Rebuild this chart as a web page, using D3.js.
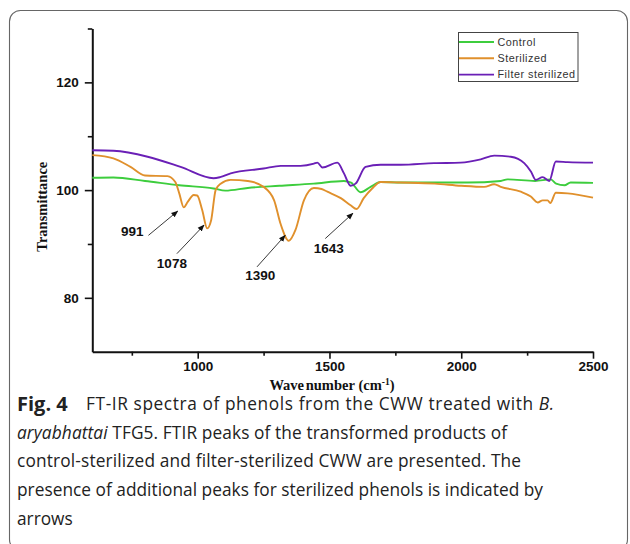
<!DOCTYPE html>
<html>
<head>
<meta charset="utf-8">
<script src="https://cdn.jsdelivr.net/npm/d3@7/dist/d3.min.js"></script>
<style>
  html, body { margin: 0; padding: 0; background: #fff; }
  svg { display: block; }
</style>
</head>
<body>
<svg id="chart" width="630" height="544"></svg>
<script>
// ---------- data ----------
const controlWN = [600,680,800,930,1060,1105,1190,1310,1440,1555,1582,1618,1656,1694,1770,1900,2025,2150,2175,2280,2340,2360,2392,2415,2500];
const controlT  = [102.3,102.35,101.7,100.9,100.3,99.9,100.4,100.8,101.2,101.7,101.4,99.6,100.6,101.5,101.4,101.4,101.4,101.7,102.0,101.7,102.0,101.2,100.9,101.4,101.35];

const sterilizedWN = [600,680,745,800,885,915,930,947,962,985,998,1017,1036,1051,1068,1087,1125,1190,1250,1290,1314,1346,1371,1403,1441,1470,1492,1543,1580,1603,1630,1662,1694,1770,1900,2000,2087,2125,2150,2226,2264,2290,2309,2328,2338,2359,2404,2500];
const sterilizedT  = [106.5,105.9,104.3,102.7,102.6,101.5,99.4,96.8,97.8,99.1,99.0,96.3,92.9,94.4,100.0,101.2,101.9,101.7,100.6,98.1,93.8,90.6,92.6,98.1,100.4,100.2,99.7,98.5,97.2,96.5,98.5,100.3,101.5,101.4,101.2,100.8,100.6,101.1,100.6,99.7,98.8,97.7,98.1,98.1,97.6,99.5,99.4,98.6];

const filterWN = [600,680,810,935,1060,1085,1125,1250,1315,1390,1441,1454,1473,1530,1555,1580,1599,1637,1694,1770,1897,1998,2074,2125,2188,2239,2265,2283,2309,2334,2359,2404,2500];
const filterT  = [107.4,107.3,106.2,104.3,102.2,102.4,103.1,104.0,104.5,104.5,104.9,105.1,104.2,105.1,103.1,100.8,101.2,104.3,104.7,104.7,105.0,105.1,105.7,106.4,106.2,105.0,103.4,101.9,102.4,101.7,105.3,105.2,105.1];

const seriesNames = ["Control", "Sterilized", "Filter sterilized"];
const seriesColors = ["#3dcd3d", "#e0902c", "#6a1fb6"];

const xTicks = [1000, 1500, 2000, 2500];
const xMinorTicks = [750, 1250, 1750, 2250];
const yTicks = [80, 100, 120];
const yMinorTicks = [90, 110, 130];

// annotation: label, label position (wn, T), arrow tail (wn, T), arrow tip (wn, T)
const annLabels = ["991", "1078", "1390", "1643"];
const annLabelWN = [752, 902, 1237, 1497];
const annLabelT  = [92.4, 86.5, 84.2, 89.2];
const annTailWN  = [813, 921, 1225, 1484];
const annTailT   = [91.6, 88.2, 85.75, 91.0];
const annTipWN   = [924, 1024, 1332, 1589];
const annTipT    = [96.1, 93.5, 91.6, 95.7];

const captionHead = "Fig. 4";
const captionLines = [
  [{t:"FT-IR spectra of phenols from the CWW treated with "}, {t:"B.", s:"italic"}],
  [{t:"aryabhattai", s:"italic"}, {t:" TFG5. FTIR peaks of the transformed products of"}],
  [{t:"control-sterilized and filter-sterilized CWW are presented. The"}],
  [{t:"presence of additional peaks for sterilized phenols is indicated by"}],
  [{t:"arrows"}]
];

// ---------- layout ----------
const svg = d3.select("#chart");
const m = {left: 92.3, right: 593, top: 28.5, bottom: 351.7};

svg.append("rect").attr("width", 630).attr("height", 544).attr("fill", "#fff");
// frame
svg.append("rect")
  .attr("x", 9.5).attr("y", 10.5).attr("width", 618).attr("height", 540)
  .attr("rx", 11).attr("ry", 11)
  .attr("fill", "none").attr("stroke", "#666").attr("stroke-width", 1.1);

const x = d3.scaleLinear().domain([600, 2500]).range([m.left, m.right]);
const y = d3.scaleLinear().domain([70, 130]).range([m.bottom, m.top]);

const sans = "'Liberation Sans', Arial, sans-serif";
const serif = "'Liberation Serif', 'Times New Roman', serif";
const capFont = "'Open Sans', 'Noto Sans', sans-serif";

// axes
const gx = svg.append("g").attr("transform", `translate(0,${m.bottom})`)
  .call(d3.axisBottom(x).tickValues(xTicks).tickSize(7).tickSizeOuter(0).tickPadding(3).tickFormat(d3.format("d")));
const gxm = svg.append("g").attr("transform", `translate(0,${m.bottom})`)
  .call(d3.axisBottom(x).tickValues(xMinorTicks).tickSize(4).tickSizeOuter(0).tickFormat(""));
const gy = svg.append("g").attr("transform", `translate(${m.left},0)`)
  .call(d3.axisLeft(y).tickValues(yTicks).tickSize(7.5).tickSizeOuter(0).tickPadding(6));
const gym = svg.append("g").attr("transform", `translate(${m.left},0)`)
  .call(d3.axisLeft(y).tickValues(yMinorTicks).tickSize(4.5).tickSizeOuter(0).tickFormat(""));

[gx, gxm, gy, gym].forEach(g => {
  g.select(".domain").attr("stroke", "#111").attr("stroke-width", 2);
  g.selectAll(".tick line").attr("stroke", "#111").attr("stroke-width", 1.6);
  g.selectAll("text").attr("fill", "#111").attr("font-family", sans)
    .attr("font-weight", "bold").attr("font-size", 13.5);
});
gxm.select(".domain").remove();
gym.select(".domain").remove();

// axis titles
svg.append("text")
  .attr("transform", `translate(47,206.7) rotate(-90)`)
  .attr("text-anchor", "middle")
  .attr("font-family", serif).attr("font-weight", "bold").attr("font-size", 14.5)
  .attr("fill", "#111").text("Transmittance");

const xt = svg.append("text")
  .attr("x", 332).attr("y", 390)
  .attr("text-anchor", "middle")
  .attr("font-family", serif).attr("font-weight", "bold").attr("font-size", 14.5)
  .attr("fill", "#111");
xt.append("tspan").attr("word-spacing", -2).text("Wave number");
xt.append("tspan").text(" (cm");
xt.append("tspan").attr("dy", -5).attr("font-size", 9.5).text("-1");
xt.append("tspan").attr("dy", 5).text(")");

// lines
const seriesData = [
  d3.zip(controlWN, controlT),
  d3.zip(sterilizedWN, sterilizedT),
  d3.zip(filterWN, filterT)
];
const line = d3.line().x(d => x(d[0])).y(d => y(d[1])).curve(d3.curveMonotoneX);
svg.append("g").selectAll("path").data(seriesData).join("path")
  .attr("d", line)
  .attr("fill", "none")
  .attr("stroke", (d, i) => seriesColors[i])
  .attr("stroke-width", 1.9)
  .attr("stroke-linejoin", "round");

// legend
const lg = svg.append("g");
lg.append("rect").attr("x", 458.5).attr("y", 32.5).attr("width", 119.5).attr("height", 49)
  .attr("fill", "#fff").attr("stroke", "#444").attr("stroke-width", 1);
seriesNames.forEach((n, i) => {
  const yy = 42 + i * 16.3;
  lg.append("line").attr("x1", 459).attr("x2", 494).attr("y1", yy).attr("y2", yy)
    .attr("stroke", seriesColors[i]).attr("stroke-width", 1.9);
  lg.append("text").attr("x", 497.5).attr("y", yy).attr("dy", "0.35em")
    .attr("font-family", sans).attr("font-size", 10.8).attr("letter-spacing", 0.5)
    .attr("fill", "#333").text(n);
});

// annotations
const defs = svg.append("defs");
defs.append("marker").attr("id", "ah").attr("viewBox", "0 0 10 10")
  .attr("refX", 9).attr("refY", 5).attr("markerWidth", 7).attr("markerHeight", 7)
  .attr("orient", "auto").attr("markerUnits", "userSpaceOnUse")
  .append("path").attr("d", "M0,1 L10,5 L0,9 Z").attr("fill", "#111");

const ag = svg.append("g");
annLabels.forEach((lab, i) => {
  ag.append("line")
    .attr("x1", x(annTailWN[i])).attr("y1", y(annTailT[i]))
    .attr("x2", x(annTipWN[i])).attr("y2", y(annTipT[i]))
    .attr("stroke", "#222").attr("stroke-width", 0.9)
    .attr("marker-end", "url(#ah)");
  ag.append("text")
    .attr("x", x(annLabelWN[i])).attr("y", y(annLabelT[i])).attr("dy", "0.36em")
    .attr("text-anchor", "middle")
    .attr("font-family", sans).attr("font-weight", "bold").attr("font-size", 13.5)
    .attr("fill", "#111").text(lab);
});

// caption
const cap = svg.append("g");
const capStart = [86, 17, 17, 17, 17];
const capEnd = [554, 507, 521, 543, null];
cap.append("text").attr("x", 17).attr("y", 410.5)
  .attr("font-family", capFont).attr("font-size", 20).attr("font-weight", "bold")
  .attr("fill", "#222").text(captionHead);
captionLines.forEach((parts, i) => {
  const t = cap.append("text").attr("x", capStart[i]).attr("y", 410 + i * 28.7)
    .attr("font-family", capFont).attr("font-size", 17.3)
    .attr("fill", "#222");
  parts.forEach(p => {
    const ts = t.append("tspan").text(p.t);
    if (p.s) ts.attr("font-style", p.s);
  });
  if (capEnd[i] !== null) {
    const node = t.node();
    const w = node.getComputedTextLength();
    const n = parts.map(p => p.t).join("").length;
    const ls = (capEnd[i] - capStart[i] - w) / (n - 1);
    t.attr("letter-spacing", ls.toFixed(3));
  }
});
</script>
</body>
</html>
